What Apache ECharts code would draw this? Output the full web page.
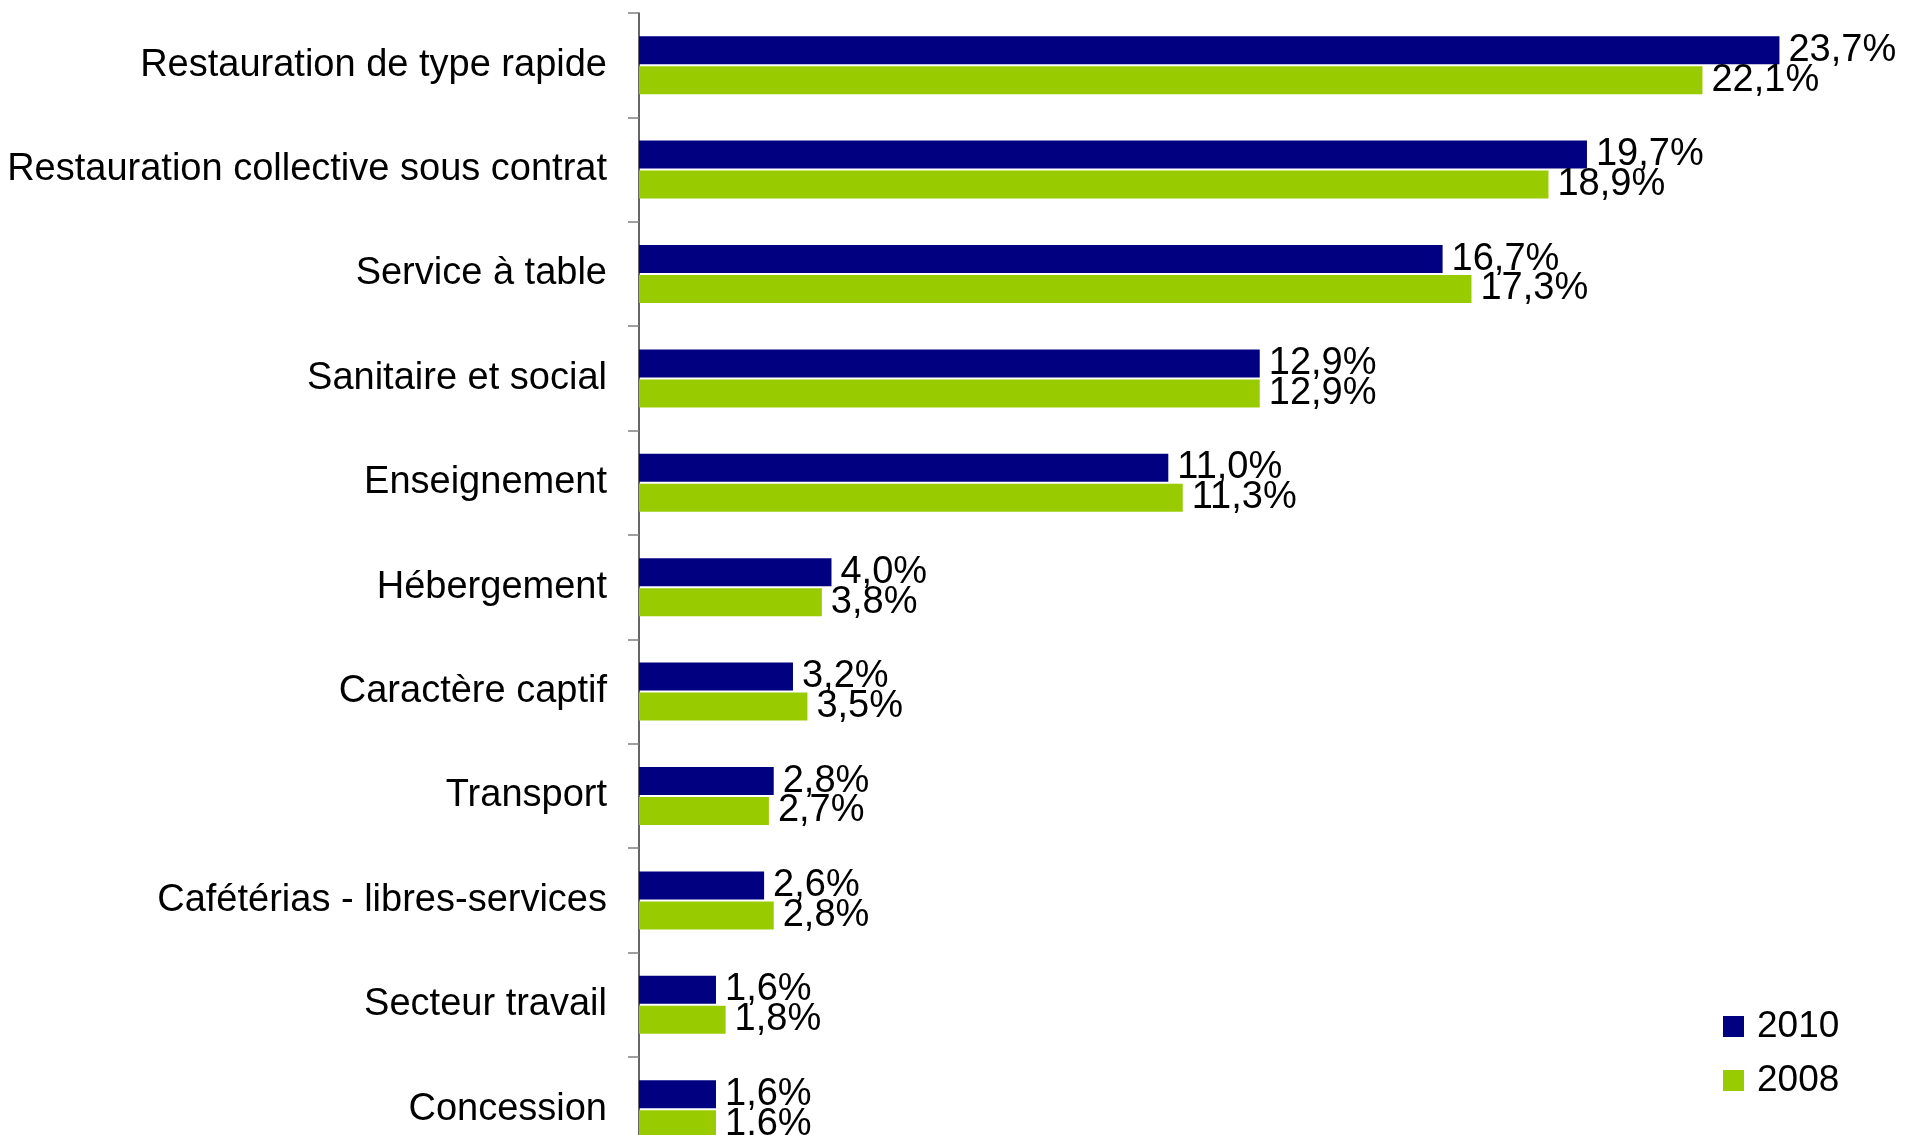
<!DOCTYPE html>
<html>
<head>
<meta charset="utf-8">
<script src="https://cdn.jsdelivr.net/npm/echarts@6/dist/echarts.min.js"></script>
<style>
html,body{margin:0;padding:0;background:#fff;overflow:hidden;width:1905px;height:1135px;}
#main{width:1905px;height:1175px;}
</style>
</head>
<body>
<div id="main"></div>
<script>
var categories = [
  "Restauration de type rapide",
  "Restauration collective sous contrat",
  "Service à table",
  "Sanitaire et social",
  "Enseignement",
  "Hébergement",
  "Caractère captif",
  "Transport",
  "Cafétérias - libres-services",
  "Secteur travail",
  "Concession"
];
var values2010 = [23.7, 19.7, 16.7, 12.9, 11.0, 4.0, 3.2, 2.8, 2.6, 1.6, 1.6];
var values2008 = [22.1, 18.9, 17.3, 12.9, 11.3, 3.8, 3.5, 2.7, 2.8, 1.8, 1.6];
var seriesNames = ["2010", "2008"];

var FONT = "'Liberation Sans', Arial, sans-serif";
function fmt(p) { return p.value.toFixed(1).replace('.', ',') + '%'; }

var chart = echarts.init(document.getElementById('main'), null, {renderer: 'canvas'});
chart.setOption({
  animation: false,
  backgroundColor: '#ffffff',
  grid: {left: 639, top: 13, width: 1203, height: 1148.4, containLabel: false},
  legend: {
    orient: 'vertical',
    left: 1718,
    top: 1003,
    itemWidth: 21,
    itemHeight: 21,
    itemGap: 17,
    icon: 'rect',
    data: seriesNames,
    textStyle: {fontFamily: FONT, fontSize: 37, color: '#000', padding: [0, 0, 0, 8]}
  },
  xAxis: {type: 'value', min: 0, max: 25, show: false},
  yAxis: {
    type: 'category',
    inverse: true,
    data: categories,
    axisLine: {show: true, lineStyle: {color: '#333', width: 1.5}},
    axisTick: {show: true, length: 11, inside: false, lineStyle: {color: '#808080', width: 1.5}},
    axisLabel: {fontFamily: FONT, fontSize: 38, color: '#000', margin: 32},
    splitLine: {show: false}
  },
  series: [
    {
      name: seriesNames[0], type: 'bar', data: values2010,
      barWidth: 28, barGap: '7%',
      itemStyle: {color: '#000080'},
      label: {show: true, position: 'right', distance: 9, formatter: fmt,
              fontFamily: FONT, fontSize: 38, color: '#000'}
    },
    {
      name: seriesNames[1], type: 'bar', data: values2008,
      barWidth: 28, barGap: '7%',
      itemStyle: {color: '#99CC00'},
      label: {show: true, position: 'right', distance: 9, formatter: fmt,
              fontFamily: FONT, fontSize: 38, color: '#000'}
    }
  ]
});
</script>
</body>
</html>
